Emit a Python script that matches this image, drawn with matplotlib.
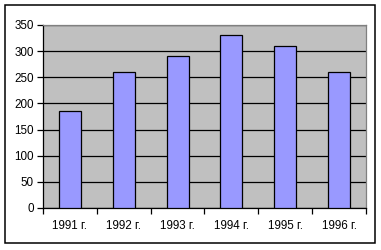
import numpy as np
import matplotlib
matplotlib.use("Agg")
import matplotlib.pyplot as plt
from matplotlib.patches import Rectangle

years = ["1991 г.", "1992 г.", "1993 г.", "1994 г.", "1995 г.", "1996 г."]
values = [185, 260, 290, 330, 310, 260]
yticks = [0, 50, 100, 150, 200, 250, 300, 350]

plt.rcParams['font.family'] = ['Liberation Sans', 'DejaVu Sans']

fig = plt.figure(figsize=(3.81, 2.5), dpi=100)
fig.patch.set_facecolor('white')

# outer chart frame
fig.add_artist(Rectangle((5/381, 1 - 243/250), 370/381, 238/250,
                         transform=fig.transFigure, fill=False,
                         edgecolor='black', linewidth=1.1))

ax = fig.add_axes([43/381, 1 - 208/250, 323/381, 183/250])
ax.set_facecolor('#C0C0C0')

x = np.arange(len(years))
ax.bar(x, values, width=0.41, color='#9999FF', edgecolor='black',
       linewidth=0.9, zorder=3)

ax.set_xlim(-0.5, len(years) - 0.5)
ax.set_ylim(0, 350)
ax.set_yticks(yticks)
ax.yaxis.grid(True, color='black', linewidth=0.9, zorder=1)
ax.set_axisbelow(True)

ax.set_xticks(x)
ax.set_xticklabels(years)
ax.set_xticks(np.arange(len(years) + 1) - 0.5, minor=True)
ax.tick_params(axis='x', which='major', length=0, pad=8.5, labelsize=8.4)
ax.tick_params(axis='x', which='minor', length=4, width=0.9, direction='out')
ax.tick_params(axis='y', length=4, width=0.9, direction='out', pad=2.5,
               labelsize=8.4)

for s in ['top', 'right']:
    ax.spines[s].set_color('#808080')
    ax.spines[s].set_linewidth(0.9)
for s in ['left', 'bottom']:
    ax.spines[s].set_color('black')
    ax.spines[s].set_linewidth(0.9)

fig.savefig('out.png', dpi=100)
